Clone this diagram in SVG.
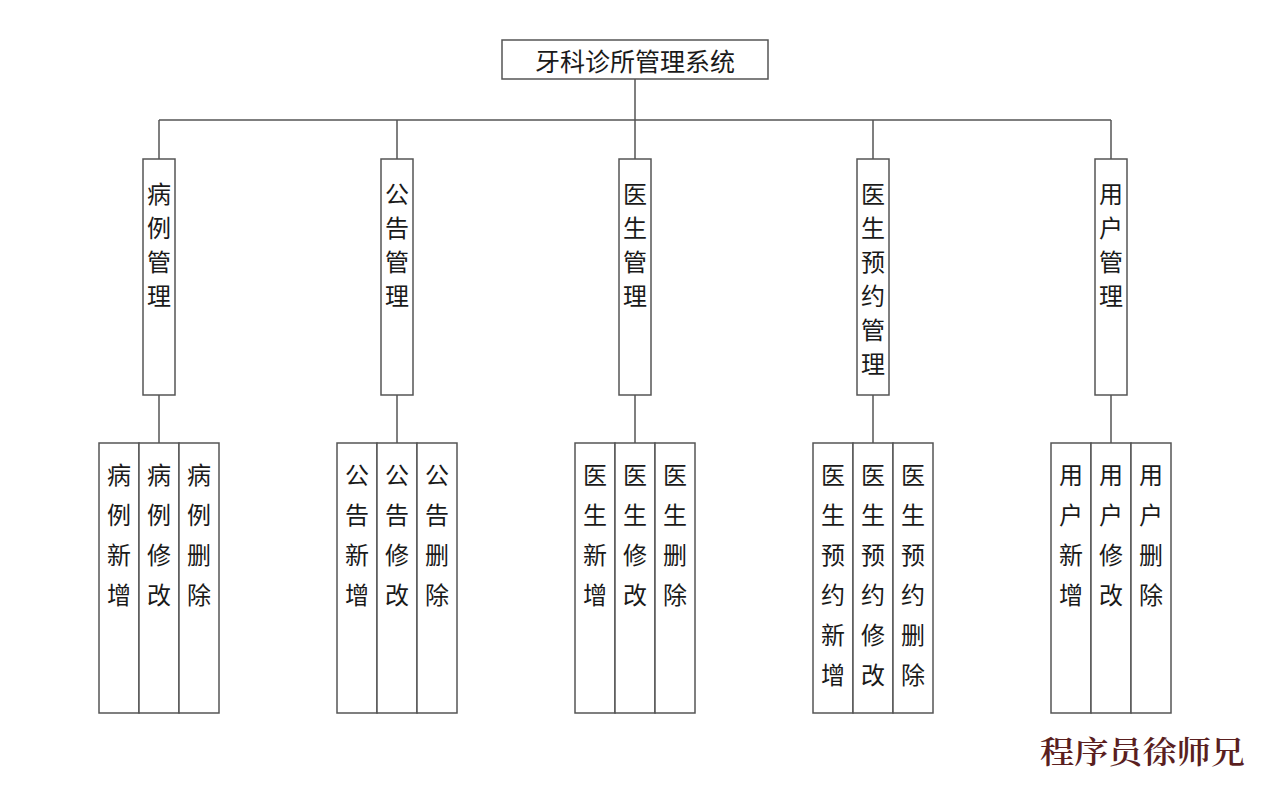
<svg xmlns="http://www.w3.org/2000/svg" width="1269" height="793" viewBox="0 0 1269 793">
<style>
.box{fill:#fff;stroke:#555;stroke-width:1.5}
.ln{fill:none;stroke:#555;stroke-width:1.5}
.t{font-family:"Noto Sans CJK SC","Noto Sans",sans-serif;font-size:24px;fill:#1a1a1a;text-anchor:middle;dominant-baseline:central}
.wm{font-family:"Noto Serif CJK SC","Noto Sans CJK SC",serif;font-size:31px;font-weight:600;fill:#5a1f1f}
</style>
<rect width="1269" height="793" fill="#fff"/>
<g id="connectors">
<path class="ln" d="M635 79V120M159 120H1111M159 120V159M397 120V159M635 120V159M873 120V159M1111 120V159M159 395V443M397 395V443M635 395V443M873 395V443M1111 395V443"/>
</g>
<g id="root"><rect class="box" x="502" y="40" width="266" height="39"/><text class="t" x="635" y="60" style="font-size:25px">牙科诊所管理系统</text></g>
<g id="n1"><rect class="box" x="143" y="159" width="32" height="236"/><text class="t"><tspan x="159" y="192">病</tspan><tspan x="159" y="226">例</tspan><tspan x="159" y="260">管</tspan><tspan x="159" y="294">理</tspan></text></g>
<g id="n2"><rect class="box" x="381" y="159" width="32" height="236"/><text class="t"><tspan x="397" y="192">公</tspan><tspan x="397" y="226">告</tspan><tspan x="397" y="260">管</tspan><tspan x="397" y="294">理</tspan></text></g>
<g id="n3"><rect class="box" x="619" y="159" width="32" height="236"/><text class="t"><tspan x="635" y="192">医</tspan><tspan x="635" y="226">生</tspan><tspan x="635" y="260">管</tspan><tspan x="635" y="294">理</tspan></text></g>
<g id="n4"><rect class="box" x="857" y="159" width="32" height="236"/><text class="t"><tspan x="873" y="192">医</tspan><tspan x="873" y="226">生</tspan><tspan x="873" y="260">预</tspan><tspan x="873" y="294">约</tspan><tspan x="873" y="328">管</tspan><tspan x="873" y="362">理</tspan></text></g>
<g id="n5"><rect class="box" x="1095" y="159" width="32" height="236"/><text class="t"><tspan x="1111" y="192">用</tspan><tspan x="1111" y="226">户</tspan><tspan x="1111" y="260">管</tspan><tspan x="1111" y="294">理</tspan></text></g>

<g id="n1a"><rect class="box" x="99" y="443" width="40" height="270"/><text class="t"><tspan x="119" y="473">病</tspan><tspan x="119" y="513">例</tspan><tspan x="119" y="553">新</tspan><tspan x="119" y="593">增</tspan></text></g>
<g id="n1b"><rect class="box" x="139" y="443" width="40" height="270"/><text class="t"><tspan x="159" y="473">病</tspan><tspan x="159" y="513">例</tspan><tspan x="159" y="553">修</tspan><tspan x="159" y="593">改</tspan></text></g>
<g id="n1c"><rect class="box" x="179" y="443" width="40" height="270"/><text class="t"><tspan x="199" y="473">病</tspan><tspan x="199" y="513">例</tspan><tspan x="199" y="553">删</tspan><tspan x="199" y="593">除</tspan></text></g>

<g id="n2a"><rect class="box" x="337" y="443" width="40" height="270"/><text class="t"><tspan x="357" y="473">公</tspan><tspan x="357" y="513">告</tspan><tspan x="357" y="553">新</tspan><tspan x="357" y="593">增</tspan></text></g>
<g id="n2b"><rect class="box" x="377" y="443" width="40" height="270"/><text class="t"><tspan x="397" y="473">公</tspan><tspan x="397" y="513">告</tspan><tspan x="397" y="553">修</tspan><tspan x="397" y="593">改</tspan></text></g>
<g id="n2c"><rect class="box" x="417" y="443" width="40" height="270"/><text class="t"><tspan x="437" y="473">公</tspan><tspan x="437" y="513">告</tspan><tspan x="437" y="553">删</tspan><tspan x="437" y="593">除</tspan></text></g>

<g id="n3a"><rect class="box" x="575" y="443" width="40" height="270"/><text class="t"><tspan x="595" y="473">医</tspan><tspan x="595" y="513">生</tspan><tspan x="595" y="553">新</tspan><tspan x="595" y="593">增</tspan></text></g>
<g id="n3b"><rect class="box" x="615" y="443" width="40" height="270"/><text class="t"><tspan x="635" y="473">医</tspan><tspan x="635" y="513">生</tspan><tspan x="635" y="553">修</tspan><tspan x="635" y="593">改</tspan></text></g>
<g id="n3c"><rect class="box" x="655" y="443" width="40" height="270"/><text class="t"><tspan x="675" y="473">医</tspan><tspan x="675" y="513">生</tspan><tspan x="675" y="553">删</tspan><tspan x="675" y="593">除</tspan></text></g>

<g id="n4a"><rect class="box" x="813" y="443" width="40" height="270"/><text class="t"><tspan x="833" y="473">医</tspan><tspan x="833" y="513">生</tspan><tspan x="833" y="553">预</tspan><tspan x="833" y="593">约</tspan><tspan x="833" y="633">新</tspan><tspan x="833" y="673">增</tspan></text></g>
<g id="n4b"><rect class="box" x="853" y="443" width="40" height="270"/><text class="t"><tspan x="873" y="473">医</tspan><tspan x="873" y="513">生</tspan><tspan x="873" y="553">预</tspan><tspan x="873" y="593">约</tspan><tspan x="873" y="633">修</tspan><tspan x="873" y="673">改</tspan></text></g>
<g id="n4c"><rect class="box" x="893" y="443" width="40" height="270"/><text class="t"><tspan x="913" y="473">医</tspan><tspan x="913" y="513">生</tspan><tspan x="913" y="553">预</tspan><tspan x="913" y="593">约</tspan><tspan x="913" y="633">删</tspan><tspan x="913" y="673">除</tspan></text></g>

<g id="n5a"><rect class="box" x="1051" y="443" width="40" height="270"/><text class="t"><tspan x="1071" y="473">用</tspan><tspan x="1071" y="513">户</tspan><tspan x="1071" y="553">新</tspan><tspan x="1071" y="593">增</tspan></text></g>
<g id="n5b"><rect class="box" x="1091" y="443" width="40" height="270"/><text class="t"><tspan x="1111" y="473">用</tspan><tspan x="1111" y="513">户</tspan><tspan x="1111" y="553">修</tspan><tspan x="1111" y="593">改</tspan></text></g>
<g id="n5c"><rect class="box" x="1131" y="443" width="40" height="270"/><text class="t"><tspan x="1151" y="473">用</tspan><tspan x="1151" y="513">户</tspan><tspan x="1151" y="553">删</tspan><tspan x="1151" y="593">除</tspan></text></g>

<text class="wm" x="1040" y="763" textLength="205" lengthAdjust="spacingAndGlyphs">程序员徐师兄</text>
</svg>
